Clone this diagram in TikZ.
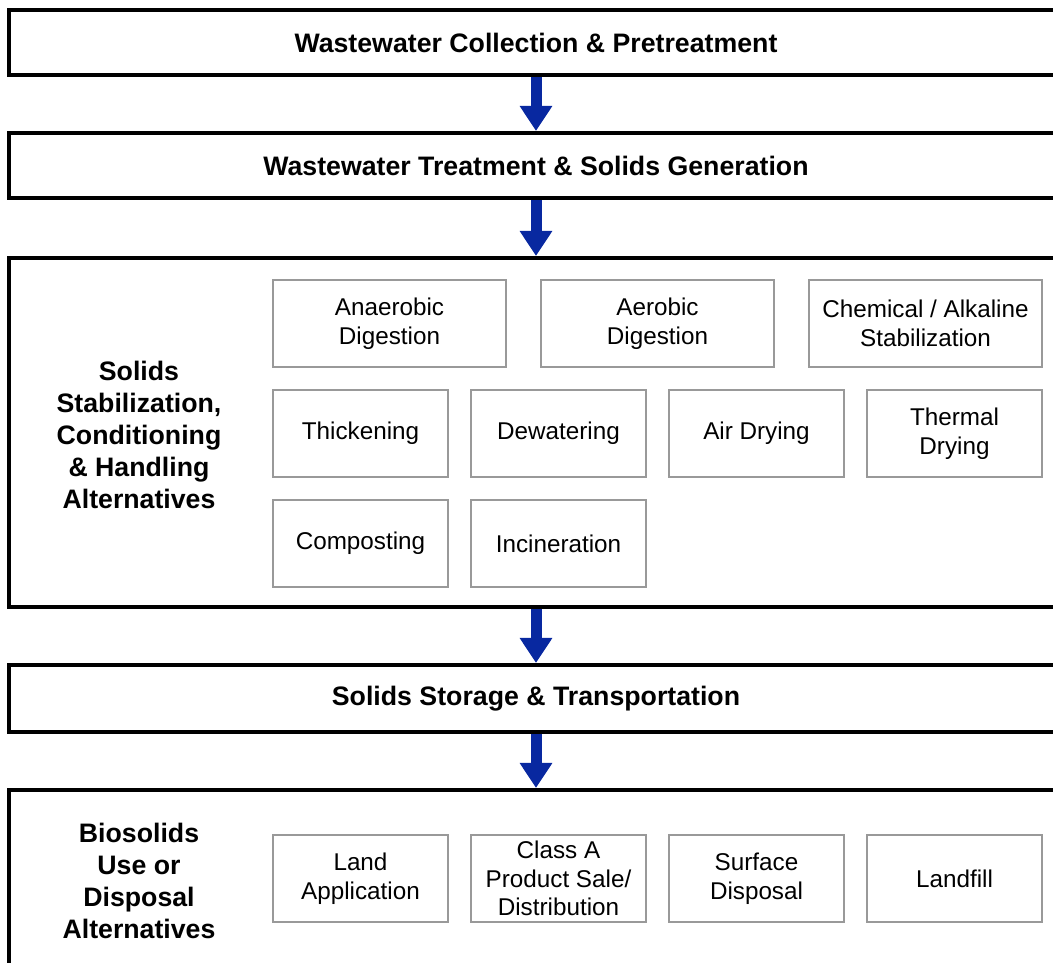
\documentclass[tikz,border=0pt]{standalone}
\usepackage{fontspec}
\setmainfont{Liberation Sans}
\usepackage{tikz}
\usetikzlibrary{arrows.meta}
\definecolor{flowblue}{RGB}{8,40,160}
\tikzstyle{stage}=[rectangle, draw, line width=2.3pt, inner sep=0pt, minimum width=21.08cm, font=\fontsize{15.2}{18}\selectfont\bfseries]
\tikzstyle{option}=[rectangle, draw=black!40, line width=0.6pt, inner sep=0pt, minimum height=1.74cm, align=center, font=\fontsize{13.8}{16.4}\selectfont]
\tikzstyle{sidelabel}=[align=center, font=\fontsize{15.2}{18.1}\selectfont\bfseries]
\tikzstyle{flow}=[flowblue, line width=0.22cm, -{Triangle[width=0.62cm,length=0.5cm]}]

\begin{document}
\begin{tikzpicture}
  \useasboundingbox (0,0) rectangle (21.06,-19.26);
  \clip (0,0) rectangle (21.06,-19.26);
  \node[stage, minimum height=1.3cm] (collect) at (10.72,-0.85) {Wastewater Collection \& Pretreatment};
  \node[stage, minimum height=1.3cm] (treat) at (10.72,-3.31) {Wastewater Treatment \& Solids Generation};
  \node[stage, minimum height=6.98cm] (stabil) at (10.72,-8.65) {};
  \node[stage, minimum height=1.34cm] (storage) at (10.72,-13.97) {Solids Storage \& Transportation};
  \node[stage, minimum height=3.7cm] (reuse) at (10.72,-17.65) {};

  \node[sidelabel] (stablabel) at (2.78,-8.7) {Solids\\Stabilization,\\Conditioning\\\& Handling\\Alternatives};
  \node[sidelabel] (reuselabel) at (2.78,-17.62) {Biosolids\\Use or\\Disposal\\Alternatives};

  % stabilization options
  \node[option, minimum width=4.66cm] (anaerobic) at (7.79,-6.47) {Anaerobic\\Digestion};
  \node[option, minimum width=4.66cm] (aerobic) at (13.15,-6.47) {Aerobic\\Digestion};
  \node[option, minimum width=4.66cm] (chemical) at (18.51,-6.47) {Chemical / Alkaline\\Stabilization};
  \node[option, minimum width=3.5cm] (thicken) at (7.21,-8.67) {Thickening};
  \node[option, minimum width=3.5cm] (dewater) at (11.17,-8.67) {Dewatering};
  \node[option, minimum width=3.5cm] (airdry) at (15.13,-8.67) {Air Drying};
  \node[option, minimum width=3.5cm] (thermal) at (19.09,-8.67) {Thermal\\Drying};
  \node[option, minimum width=3.5cm] (compost) at (7.21,-10.87) {Composting};
  \node[option, minimum width=3.5cm] (incin) at (11.17,-10.87) {Incineration};

  % use or disposal options
  \node[option, minimum width=3.5cm] (landapp) at (7.21,-17.57) {Land\\Application};
  \node[option, minimum width=3.5cm] (classa) at (11.17,-17.57) {Class A\\Product Sale/\\Distribution};
  \node[option, minimum width=3.5cm] (surface) at (15.13,-17.57) {Surface\\Disposal};
  \node[option, minimum width=3.5cm] (landfill) at (19.09,-17.57) {Landfill};

  \draw[flow] (collect.south) -- (treat.north);
  \draw[flow] (treat.south) -- (stabil.north);
  \draw[flow] (stabil.south) -- (storage.north);
  \draw[flow] (storage.south) -- (reuse.north);
\end{tikzpicture}
\end{document}
